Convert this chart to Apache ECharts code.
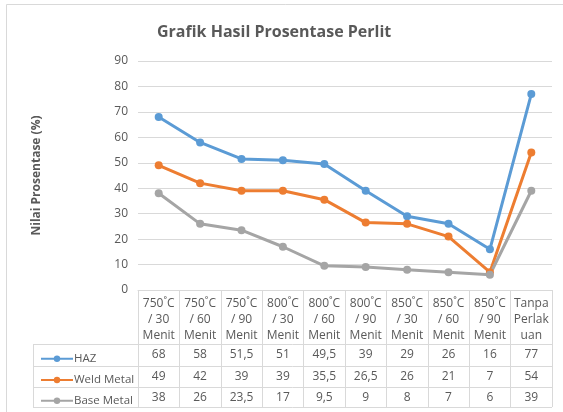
<!DOCTYPE html>
<html>
<head>
<meta charset="utf-8">
<script src="https://cdn.jsdelivr.net/npm/echarts@6/dist/echarts.min.js"></script>
<style>
  html, body { margin: 0; padding: 0; background: #fff; }
  #chart { width: 563px; height: 412px; }
</style>
</head>
<body>
<div id="chart"></div>
<script>
  // data
  const categories = [
    '750˚C\n/ 30\nMenit', '750˚C\n/ 60\nMenit', '750˚C\n/ 90\nMenit',
    '800˚C\n/ 30\nMenit', '800˚C\n/ 60\nMenit', '800˚C\n/ 90\nMenit',
    '850˚C\n/ 30\nMenit', '850˚C\n/ 60\nMenit', '850˚C\n/ 90\nMenit',
    'Tanpa\nPerlak\nuan'
  ]
  const seriesNames = ['HAZ', 'Weld Metal', 'Base Metal']
  const haz = [68, 58, 51.5, 51, 49.5, 39, 29, 26, 16, 77]
  const weldMetal = [49, 42, 39, 39, 35.5, 26.5, 26, 21, 7, 54]
  const baseMetal = [38, 26, 23.5, 17, 9.5, 9, 8, 7, 6, 39]
  const colors = ['#5b9bd5', '#ed7d31', '#a5a5a5']

  const textColor = '#595959'
  const lineColor = '#d9d9d9'
  const font = 'Open Sans'

  // layout
  const gridLeft = 138, gridRight = 552, gridTop = 61, gridBottom = 290
  const tableLeft = 33, tableBottom = 407
  const rowLines = [344, 365.5, 386.5, 407]

  const fmt = v => String(v).replace('.', ',')
  const rows = [haz, weldMetal, baseMetal]

  // one extra x axis per table row, only for its labels
  let xAxes = [{
    type: 'category',
    data: categories,
    boundaryGap: true,
    axisLine: {lineStyle: {color: lineColor, width: 1}},
    axisTick: {show: true, length: tableBottom - gridBottom, lineStyle: {color: lineColor}},
    axisLabel: {
      interval: 0, margin: 6, color: textColor, fontSize: 12, fontFamily: font,
      lineHeight: 16
    }
  }]
  rows.forEach((r, i) => {
    xAxes.push({
      type: 'category',
      position: 'bottom',
      offset: rowLines[i] - gridBottom,
      data: r.map(fmt),
      axisLine: {show: false},
      axisTick: {show: false},
      axisLabel: {interval: 0, margin: 4, color: textColor, fontSize: 12, fontFamily: font, lineHeight: 14}
    })
  })

  const legends = seriesNames.map((name, i) => ({
    data: [name],
    left: tableLeft + 2,
    top: (rowLines[i] + rowLines[i + 1]) / 2 - 7,
    itemWidth: 32,
    itemHeight: 8,
    itemGap: 2,
    selectedMode: false,
    textStyle: {color: textColor, fontSize: 11.5, fontFamily: font, padding: [0, 0, 0, -4]}
  }))

  // table frame
  const graphics = [{
    type: 'rect', silent: true,
    shape: {x: 6.5, y: 4.5, width: 600, height: 500},
    style: {fill: 'none', stroke: lineColor, lineWidth: 1}
  }, {
    type: 'line', silent: true,
    shape: {x1: tableLeft + 0.5, y1: rowLines[0], x2: tableLeft + 0.5, y2: tableBottom},
    style: {stroke: lineColor, lineWidth: 1}
  }]
  rowLines.forEach(y => {
    graphics.push({
      type: 'line', silent: true,
      shape: {x1: tableLeft, y1: Math.round(y) + 0.5, x2: gridRight, y2: Math.round(y) + 0.5},
      style: {stroke: lineColor, lineWidth: 1}
    })
  })

  const chart = echarts.init(document.getElementById('chart'))
  chart.setOption({
    backgroundColor: '#fff',
    animation: false,
    color: colors,
    title: {
      text: 'Grafik Hasil Prosentase Perlit',
      left: 152,
      top: 19,
      textStyle: {color: textColor, fontSize: 16, fontWeight: 'bold', fontFamily: font}
    },
    legend: legends,
    grid: {left: gridLeft, right: 563 - gridRight, top: gridTop, bottom: 412 - gridBottom, containLabel: false},
    xAxis: xAxes,
    yAxis: {
      type: 'value',
      min: 0,
      max: 90,
      interval: 10,
      name: 'Nilai Prosentase (%)',
      nameLocation: 'middle',
      nameGap: 95,
      nameTextStyle: {color: textColor, fontSize: 12, fontWeight: 'bold', fontFamily: font},
      axisLine: {show: false},
      axisTick: {show: false},
      axisLabel: {color: textColor, fontSize: 12, fontFamily: font, margin: 10},
      splitLine: {lineStyle: {color: lineColor, width: 1}}
    },
    series: rows.map((r, i) => ({
      name: seriesNames[i],
      type: 'line',
      xAxisIndex: 0,
      data: r,
      symbol: 'circle',
      symbolSize: 8,
      lineStyle: {width: 3, color: colors[i]},
      itemStyle: {color: colors[i]}
    })),
    graphic: graphics
  })
</script>
</body>
</html>
